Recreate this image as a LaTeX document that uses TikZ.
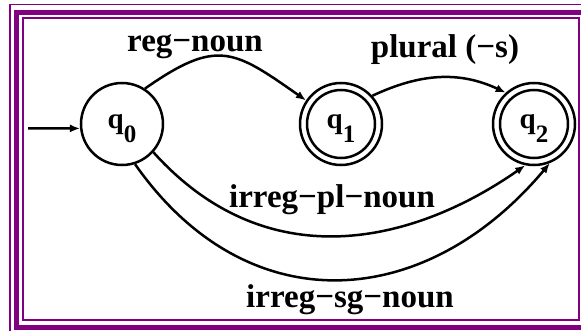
\documentclass[tikz,border=0pt]{standalone}
\usepackage{fontspec}
\setmainfont{Liberation Serif}
\usetikzlibrary{arrows.meta}
\definecolor{framepurple}{RGB}{128,0,128}

\begin{document}
\begin{tikzpicture}[x=1pt,y=1pt,
  state/.style={circle,draw,line width=2.5pt,minimum size=82pt,inner sep=0pt,
    font=\fontsize{29}{30}\selectfont\bfseries,text height=18pt,text depth=10pt},
  lab/.style={font=\fontsize{33}{36}\selectfont\bfseries,anchor=base},
  edge/.style={line width=2.5pt,-{Latex[length=10pt,width=8pt]}}]
\def\qsub#1{\raisebox{-14pt}{\fontsize{25}{26}\selectfont #1}}
\useasboundingbox (0,0) rectangle (581,330);
\clip (0,0) rectangle (581,330);
\draw[framepurple,line width=1.5pt] (600,325.5) -| (10,-10);
\draw[framepurple,line width=5pt] (600,317.5) -| (16,3) -- (600,3);
\draw[framepurple,line width=2pt] (22.5,312) rectangle (579,10.5);
\node[state] (q0) at (122,206) {q\qsub0};
\node[state] (q1) at (341,206) {q\qsub1};
\node[state] (q2) at (534,206) {q\qsub2};
\foreach \n in {q1,q2}{\draw[line width=2.5pt] (\n) circle[radius=34];}
\coordinate (init) at (28,201.6);
\draw[edge] (init) -- (q0.186);
\draw[edge] (q0.57) to[out=35,in=145,looseness=1.4] (q1.146);
\draw[edge] (q1.42) to[out=25,in=155] (q2.132);
\draw[edge] (q0.318) .. controls +(-48:175) and +(215:130) .. (q2.258);
\draw[edge] (q0.288) to[out=-55,in=230,looseness=1.2] (q2.292);
\node[lab] (lreg) at (195,278) {reg−noun};
\node[lab] (lplural) at (445,272) {plural (−s)};
\node[lab] (lirrpl) at (332,123) {irreg−pl−noun};
\node[lab] (lirrsg) at (350,23) {irreg−sg−noun};
\end{tikzpicture}
\end{document}
